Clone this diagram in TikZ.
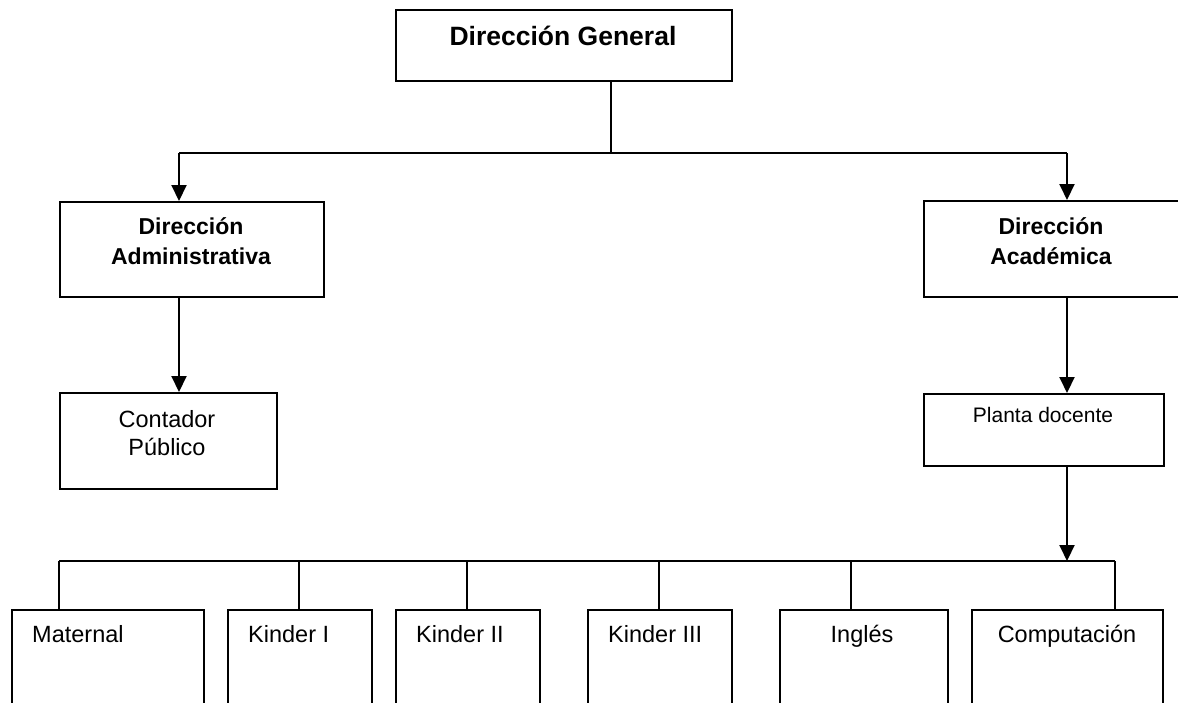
\documentclass[tikz,border=0pt]{standalone}
\usepackage{fontspec}
\setmainfont{Liberation Sans}
\usetikzlibrary{arrows.meta}
\begin{document}
\begin{tikzpicture}[x=1pt,y=-1pt,
  box/.style={draw=black,line width=2pt,rectangle,inner sep=0pt,anchor=north west},
  conn/.style={draw=black,line width=2pt},
  arr/.style={conn,-{Triangle[width=15pt,length=16pt]}},
  tb/.style={font=\fontsize{23}{30}\selectfont\bfseries,align=center,inner sep=0pt,anchor=base},
  tr/.style={font=\fontsize{23.5}{28}\selectfont,align=center,inner sep=0pt,anchor=base}]
\useasboundingbox (0,0) rectangle (1178,702);
\clip (0,0) rectangle (1178,702);
% boxes
\node[box,minimum width=336pt,minimum height=71pt] (dg) at (395,9) {};
\node[box,minimum width=264pt,minimum height=95pt] (dad) at (59,201) {};
\node[box,minimum width=270pt,minimum height=96pt] (dac) at (923,200) {};
\node[box,minimum width=217pt,minimum height=96pt] (cp) at (59,392) {};
\node[box,minimum width=240pt,minimum height=72pt] (pd) at (923,393) {};
\node[box,minimum width=192pt,minimum height=120pt] (b1) at (11,609) {};
\node[box,minimum width=144pt,minimum height=120pt] (b2) at (227,609) {};
\node[box,minimum width=144pt,minimum height=120pt] (b3) at (395,609) {};
\node[box,minimum width=144pt,minimum height=120pt] (b4) at (587,609) {};
\node[box,minimum width=168pt,minimum height=120pt] (b5) at (779,609) {};
\node[box,minimum width=191pt,minimum height=120pt] (b6) at (971,609) {};
% texts
\node[tb,font=\fontsize{26.5}{30}\selectfont\bfseries] (tdg) at (563,45) {Dirección General};
\node[tb] (tdad) at (191,264) {Dirección\\Administrativa};
\node[tb] (tdac) at (1051,264) {Dirección\\Académica};
\node[tr] (tcp) at (167,455) {Contador\\Público};
\node[tr,font=\fontsize{21}{25}\selectfont] (tpd) at (1043,422) {Planta docente};
\node[tr,anchor=base west] (t1) at (32,642) {Maternal};
\node[tr,anchor=base west] (t2) at (248,642) {Kinder I};
\node[tr,anchor=base west] (t3) at (416,642) {Kinder II};
\node[tr,anchor=base west] (t4) at (608,642) {Kinder III};
\node[tr] (t5) at (862,642) {Inglés};
\node[tr] (t6) at (1067,642) {Computación};
% junctions
\coordinate (hub) at (611,153);
\coordinate (hl) at (179,153);
\coordinate (hr) at (1067,153);
\coordinate (bus) at (1067,561);
\coordinate (c1) at (59,561);
\coordinate (c2) at (299,561);
\coordinate (c3) at (467,561);
\coordinate (c4) at (659,561);
\coordinate (c5) at (851,561);
\coordinate (c6) at (1115,561);
% connectors
\draw[conn] (hub |- dg.south) -- (hub);
\draw[conn] (hl) -- (hr);
\draw[arr] (hl) -- (hl |- dad.north);
\draw[arr] (hr) -- (hr |- dac.north);
\draw[arr] (hl |- dad.south) -- (hl |- cp.north);
\draw[arr] (hr |- dac.south) -- (hr |- pd.north);
\draw[arr] (hr |- pd.south) -- (bus);
\draw[conn] (c1) -- (c6);
\draw[conn] (c1) -- (c1 |- b1.north);
\draw[conn] (c2) -- (c2 |- b2.north);
\draw[conn] (c3) -- (c3 |- b3.north);
\draw[conn] (c4) -- (c4 |- b4.north);
\draw[conn] (c5) -- (c5 |- b5.north);
\draw[conn] (c6) -- (c6 |- b6.north);
\end{tikzpicture}
\end{document}
